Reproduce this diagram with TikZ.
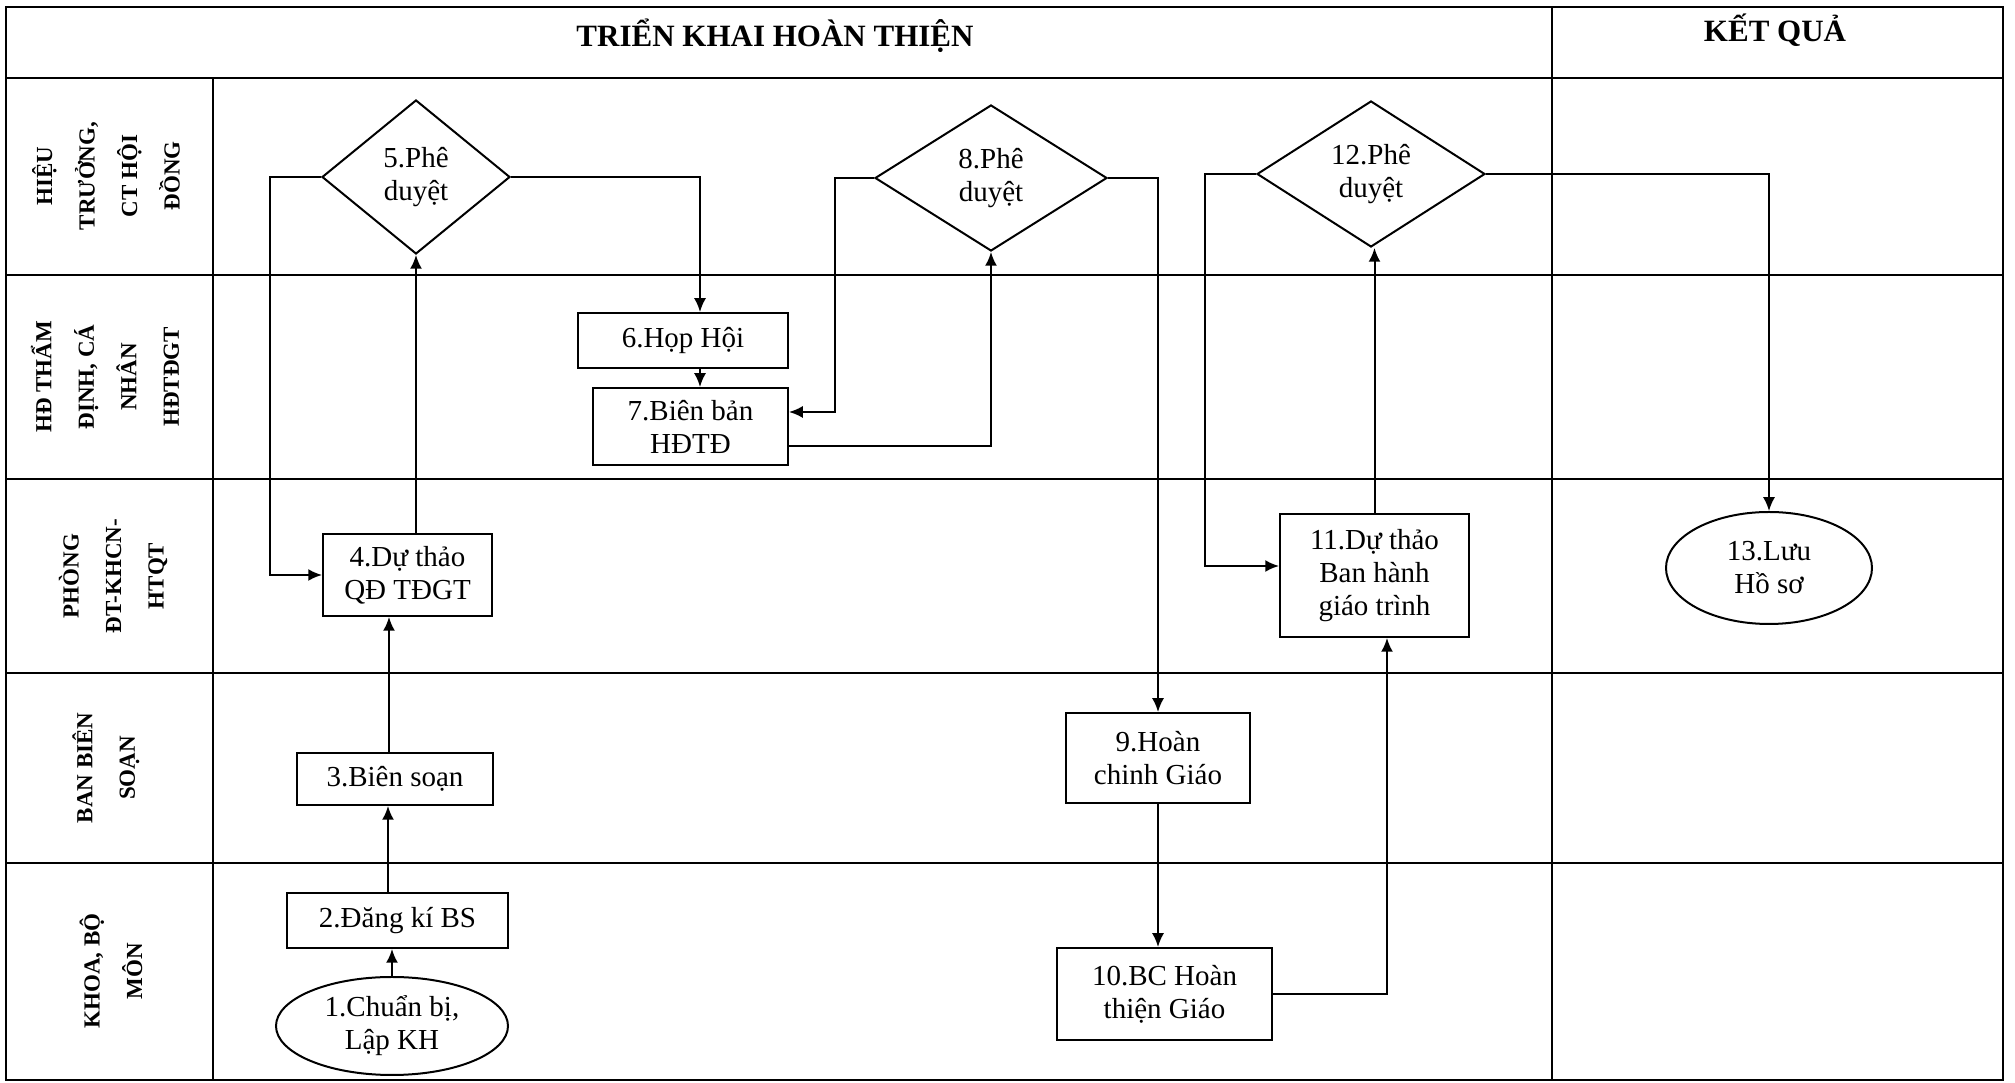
\documentclass[tikz,border=0pt]{standalone}
\usepackage{fontspec}
\setmainfont{Liberation Serif}
\usetikzlibrary{shapes.geometric,arrows.meta,calc}
\newcommand\ndfont{\fontsize{11.6pt}{13.2pt}\selectfont}
\newcommand\lnfont{\fontsize{9.2pt}{17pt}\selectfont\bfseries}
\newcommand\hdfont{\fontsize{12.4pt}{14pt}\selectfont\bfseries}
\begin{document}
\begin{tikzpicture}[x=0.4pt,y=-0.4pt,
  frame/.style={line width=0.8pt},
  conn/.style={line width=0.8pt},
  arr/.style={conn,-{Latex[length=5.5pt,width=4.8pt]}},
  box/.style={draw,line width=0.8pt,rectangle,inner sep=0pt,align=center,font=\ndfont},
  dia/.style={draw,line width=0.8pt,diamond,inner sep=0pt,align=center,font=\ndfont},
  oval/.style={draw,line width=0.8pt,ellipse,inner sep=0pt,align=center,font=\ndfont},
  lane/.style={rotate=90,align=center,font=\lnfont},
  head/.style={font=\hdfont,anchor=base}]

% background / bounding box
\fill[white] (0,0) rectangle (2015,1083);

% frame
\draw[frame] (6,7) rectangle (2003,1080);
\draw[frame] (6,78) -- (2003,78);
\draw[frame] (6,275) -- (2003,275);
\draw[frame] (6,479) -- (2003,479);
\draw[frame] (6,673) -- (2003,673);
\draw[frame] (6,863) -- (2003,863);
\draw[frame] (213,78) -- (213,1080);
\draw[frame] (1552,7) -- (1552,1080);

% headers
\node[head] (hmain) at (775,47) {TRIỂN KHAI HOÀN THIỆN};
\node[head] (hres) at (1775,42) {KẾT QUẢ};

% lane labels
\node[lane] (l1) at (106,176) {HIỆU\\TRƯỞNG,\\CT HỘI\\ĐỒNG};
\node[lane] (l2) at (105,377) {HĐ THẨM\\ĐỊNH, CÁ\\NHÂN\\HĐTĐGT};
\node[lane] (l3) at (113,576) {PHÒNG\\ĐT-KHCN-\\HTQT};
\node[lane] (l4) at (106,768) {BAN BIÊN\\SOẠN};
\node[lane] (l5) at (111,971) {KHOA, BỘ\\MÔN};

% nodes
\node[oval,minimum width=92.8pt,minimum height=39.2pt] (n1) at (392,1026) {1.Chuẩn bị,\\Lập KH};
\node[box,minimum width=88.4pt,minimum height=22pt] (n2) at (397.5,920.5) {2.Đăng kí BS};
\node[box,minimum width=78.4pt,minimum height=20.8pt] (n3) at (395,779) {3.Biên soạn};
\node[box,minimum width=67.6pt,minimum height=32.8pt] (n4) at (407.5,575) {4.Dự thảo\\QĐ TĐGT};
\node[dia,minimum width=75.2pt,minimum height=61.6pt] (n5) at (416,177) {5.Phê\\duyệt};
\node[box,minimum width=84pt,minimum height=22pt] (n6) at (683,340.5) {6.Họp Hội};
\node[box,minimum width=78pt,minimum height=30.8pt] (n7) at (690.5,426.5) {7.Biên bản\\HĐTĐ};
\node[dia,minimum width=92.8pt,minimum height=58.4pt] (n8) at (991,178) {8.Phê\\duyệt};
\node[box,minimum width=73.6pt,minimum height=36pt] (n9) at (1158,758) {9.Hoàn\\chinh Giáo};
\node[box,minimum width=86pt,minimum height=36.8pt] (n10) at (1164.5,994) {10.BC Hoàn\\thiện Giáo};
\node[box,minimum width=75.6pt,minimum height=49.2pt] (n11) at (1374.5,575.5) {11.Dự thảo\\Ban hành\\giáo trình};
\node[dia,minimum width=91.2pt,minimum height=58.4pt] (n12) at (1371,174) {12.Phê\\duyệt};
\node[oval,minimum width=82.4pt,minimum height=44.8pt] (n13) at (1769,568) {13.Lưu\\Hồ sơ};

% helper coordinates
\coordinate (c23) at (388,0);
\coordinate (c34) at (389,0);
\coordinate (L5) at (270,0);
\coordinate (c6) at (700,0);
\coordinate (L8) at (835,0);
\coordinate (c1011) at (1387,0);
\coordinate (L12) at (1205,0);
\coordinate (p7a) at ($(n7.east)+(0,-14.5)$);
\coordinate (p7b) at ($(n7.east)+(0,19.5)$);
\coordinate (p11) at ($(n11.west)+(0,-9.5)$);

% connectors
\draw[arr] (n1.north) -- (n1.north |- n2.south);
\draw[arr] (n2.north -| c23) -- (n3.south -| c23);
\draw[arr] (n3.north -| c34) -- (n4.south -| c34);
\draw[arr] (n4.north -| n5.south) -- (n5.south);
\draw[arr] (n5.west) -- (n5.west -| L5) -- (L5 |- n4.west) -- (n4.west);
\draw[arr] (n5.east) -- (n5.east -| c6) -- (c6 |- n6.north);
\draw[arr] (n6.south -| c6) -- (n7.north -| c6);
\draw[arr] (n8.west) -- (n8.west -| L8) -- (L8 |- p7a) -- (p7a);
\draw[arr] (p7b) -| (n8.south);
\draw[arr] (n8.east) -| (n9.north);
\draw[arr] (n9.south) -- (n9.south |- n10.north);
\draw[arr] (n10.east) -| (c1011 |- n11.south);
\draw[arr] (n11.north) -- (n11.north |- n12.south);
\draw[arr] (n12.west) -- (n12.west -| L12) -- (L12 |- p11) -- (p11);
\draw[arr] (n12.east) -| (n13.north);
\end{tikzpicture}
\end{document}
